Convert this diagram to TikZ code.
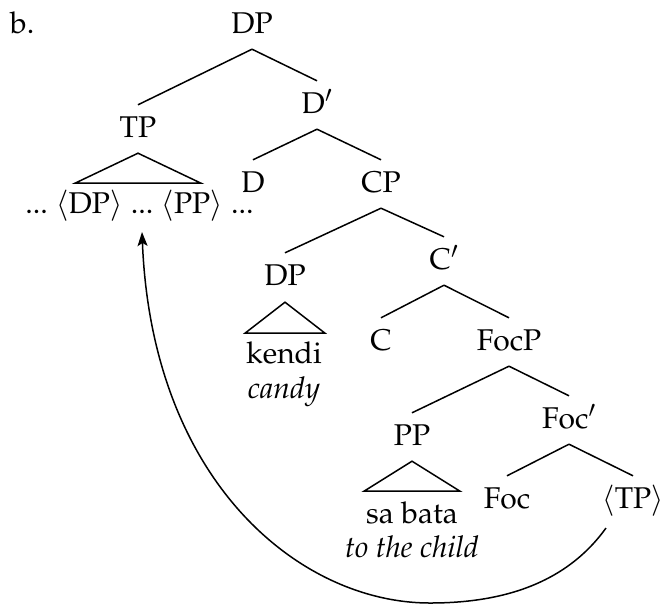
\documentclass[tikz,border=0pt]{standalone}
\usepackage[T1]{fontenc}
\usepackage{mathpazo}
\usetikzlibrary{arrows.meta}
\newcommand\treebranch[2]{\draw[edge] ([yshift=-16pt]#1.south) -- ([yshift=11pt]#2.north);}
\begin{document}
\begin{tikzpicture}[x=1pt,y=-1pt,
  lab/.style={font=\fontsize{30}{36}\selectfont, inner sep=0pt, anchor=base, text height=21pt, text depth=0pt},
  dots/.style={lab, text height=4pt},
  gloss/.style={font=\fontsize{30}{36}\selectfont\itshape, inner sep=0pt, anchor=base},
  edge/.style={line width=1.5pt},
  tri/.style={line width=1.5pt, line join=miter},
  mv/.style={line width=1.5pt, -{Stealth[length=14pt,width=10pt,inset=3pt]}}]
\useasboundingbox (0,0) rectangle (668,605);
% label
\node[lab, anchor=base west] (ex) at (10,33) {b.};
% nodes
\node[lab] (DP0) at (252,33) {DP};
\node[lab] (TP) at (138,137) {TP};
\node[lab] (Dbar) at (317,113) {D$'$};
\node[lab] (D) at (253,192) {D};
\node[lab] (CP) at (381,192) {CP};
\node[lab] (DP2) at (285,285) {DP};
\node[lab] (Cbar) at (444,269) {C$'$};
\node[lab] (C) at (381,350) {C};
\node[lab] (FocP) at (509,350) {FocP};
\node[lab] (PP) at (412,445) {PP};
\node[lab] (Focbar) at (569,428) {Foc$'$};
\node[lab] (Foc) at (507,508) {Foc};
\node[lab] (tTP) at (633,508) {$\langle$TP$\rangle$};
% TP yield
\node[dots] (mid) at (142,213) {...};
\node[lab, anchor=base east, xshift=-7.5pt] (ldp) at (mid.base west) {$\langle$DP$\rangle$};
\node[dots, anchor=base east, xshift=-7.5pt] (ldots) at (ldp.base west) {...};
\node[lab, anchor=base west, xshift=7.5pt] (lpp) at (mid.base east) {$\langle$PP$\rangle$};
\node[dots, anchor=base west, xshift=7.5pt] (rdots) at (lpp.base east) {...};
% terminals
\node[lab] (kendi) at (284,363) {kendi};
\node[gloss] (candy) at (284,398) {candy};
\node[lab] (sabata) at (412,523) {sa bata};
\node[gloss] (child) at (412,557) {to the child};
% branches
\treebranch{DP0}{TP}
\treebranch{DP0}{Dbar}
\treebranch{Dbar}{D}
\treebranch{Dbar}{CP}
\treebranch{CP}{DP2}
\treebranch{CP}{Cbar}
\treebranch{Cbar}{C}
\treebranch{Cbar}{FocP}
\treebranch{FocP}{PP}
\treebranch{FocP}{Focbar}
\treebranch{Focbar}{Foc}
\treebranch{Focbar}{tTP}
% triangles
\draw[tri] ([yshift=-16pt]TP.south) -- ++(-63,30) -- ++(126,0) -- cycle;
\draw[tri] ([yshift=-17pt]DP2.south) -- ++(-40,31) -- ++(80,0) -- cycle;
\draw[tri] ([yshift=-16pt]PP.south) -- ++(-48,30) -- ++(96,0) -- cycle;
% movement arrow
\coordinate (bot) at (430,603);
\draw[mv] ([xshift=-27pt,yshift=-20pt]tTP.base) .. controls +(-41,57) and +(70,0) .. (bot)
  .. controls +(-130,0) and +(10,250) .. ([yshift=-19pt]mid.base);
\end{tikzpicture}
\end{document}
